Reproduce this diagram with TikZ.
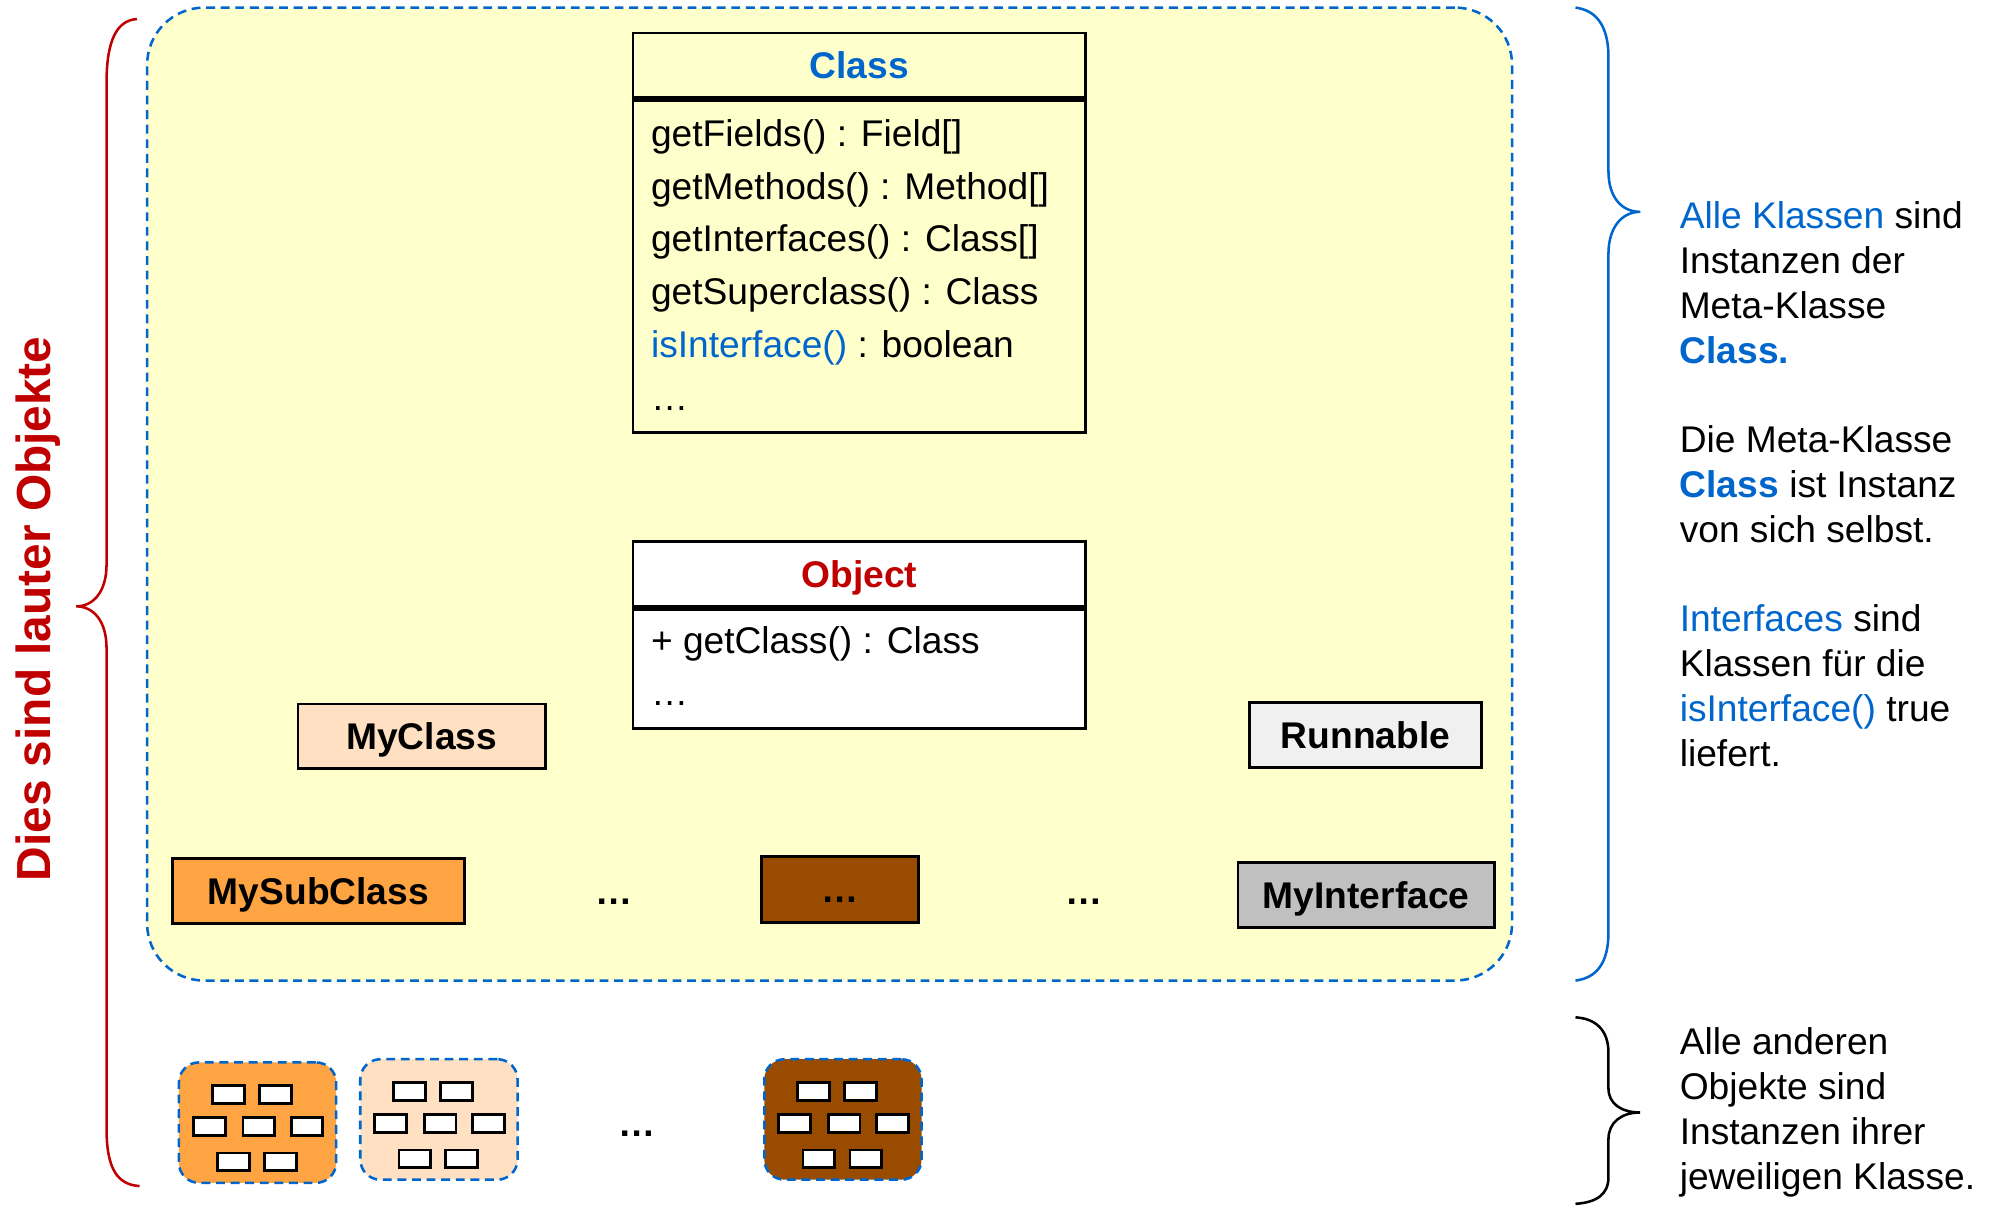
\documentclass[tikz,border=0pt]{standalone}
\usepackage{fontspec}
\setmainfont{Liberation Sans}
\usetikzlibrary{calc}
\definecolor{myblue}{HTML}{0066CC}
\definecolor{myred}{HTML}{C00000}
\definecolor{myyellow}{HTML}{FFFFCC}
\definecolor{mypeach}{HTML}{FFE0C2}
\definecolor{myorange}{HTML}{FFA443}
\definecolor{mybrown}{HTML}{994C00}
\definecolor{mylight}{HTML}{F0F0F0}
\definecolor{mygray}{HTML}{C0C0C0}
\tikzset{
  bluedash/.style={draw=myblue, line width=2pt, dash pattern=on 7pt off 4.5pt},
  region/.style={bluedash, fill=myyellow, rounded corners=45pt, minimum width=1076, minimum height=767, inner sep=0},
  umlbox/.style={draw=black, line width=2.2pt, inner sep=0},
  hdr/.style={umlbox, minimum width=357, minimum height=51, font=\bfseries\fontsize{29.3}{35}\selectfont, text height=21pt, text depth=0pt},
  mline/.style={anchor=base west, inner sep=0, font=\fontsize{29.3}{35}\selectfont},
  clsbox/.style={draw=black, line width=2.2pt, inner sep=0, minimum height=51, font=\bfseries\fontsize{29.3}{35}\selectfont, text height=21pt, text depth=0pt},
  dots/.style={anchor=base, inner sep=0, font=\bfseries\fontsize{29.3}{35}\selectfont},
  note/.style={anchor=base west, inner sep=0, font=\fontsize{29.3}{35}\selectfont},
  grp/.style={bluedash, rounded corners=16pt, minimum width=124, minimum height=95, inner sep=0},
  obj/.style={draw=black, line width=2.2pt, fill=white, minimum width=25, minimum height=14, inner sep=0},
  brace/.style={line width=2pt}
}
\begin{document}
\begin{tikzpicture}[x=1pt,y=-1pt]
\useasboundingbox (0,0) rectangle (1568,950);

% meta region
\node[region] (meta) at (654,389.5) {};

% red brace and label
\draw[brace, draw=myred] (108,15) .. controls (92,16) and (84,32) .. (84,65) -- (84,445)
  .. controls (84,466) and (74,478) .. (60,478) .. controls (74,478) and (84,490) .. (84,511)
  -- (84,890) .. controls (84,922) and (93,934) .. (110,935);
\node[rotate=90, anchor=base, inner sep=0, text=myred, font=\bfseries\fontsize{37.7}{40}\selectfont] (lbl) at (40,480) {Dies sind lauter Objekte};

% Class box
\node[hdr, text=myblue] (classhead) at (677.5,51.5) {Class};
\node[umlbox, minimum width=357, minimum height=262, anchor=north] (classbody) at (classhead.south) {};
\node[mline] (c1) at (513,115.5) {getFields() : Field[]};
\node[mline] (c2) at (513,157) {getMethods() : Method[]};
\node[mline] (c3) at (513,198.5) {getInterfaces() : Class[]};
\node[mline] (c4) at (513,240) {getSuperclass() : Class};
\node[mline] (c5) at (513,281.5) {\textcolor{myblue}{isInterface()} : boolean};
\node[mline] (c6) at (513,324) {…};

% Object box
\node[hdr, fill=white, text=myred] (objhead) at (677.5,452.5) {Object};
\node[umlbox, fill=white, minimum width=357, minimum height=94, anchor=north] (objbody) at (objhead.south) {};
\node[mline] (o1) at (513,515) {+ getClass() : Class};
\node[mline] (o2) at (513,556) {…};

% class boxes
\node[clsbox, fill=mypeach, minimum width=195] (myclass) at (332.5,580.5) {MyClass};
\node[clsbox, fill=mylight, minimum width=183] (runnable) at (1076.5,579.5) {Runnable};
\node[clsbox, fill=myorange, minimum width=230] (mysub) at (251,702.5) {MySubClass};
\node[clsbox, fill=mybrown, minimum width=124, minimum height=52] (brown) at (662,701) {…};
\node[clsbox, fill=mygray, minimum width=202] (myintf) at (1077,705.5) {MyInterface};
\node[dots] (d1) at (484,713) {…};
\node[dots] (d2) at (855,713) {…};

% object groups
\node[grp, fill=myorange] (grp1) at (203,885) {};
\node[grp, fill=mypeach] (grp2) at (346,882.5) {};
\node[grp, fill=mybrown] (grp3) at (664.5,882.5) {};
\foreach \g in {grp1,grp2,grp3}{
  \foreach \dx/\dy [count=\k] in {-23/-22, 14/-22, -38/3, 1/3, 39/3, -19/31, 18/31}{
    \node[obj] (\g-\k) at ($(\g.center)+(\dx,\dy)$) {};
  }
}
\node[dots] (d3) at (502,896) {…};

% blue brace
\draw[brace, draw=myblue] (1242,6) .. controls (1258,8) and (1268,20) .. (1268,45) -- (1268,135)
  .. controls (1268,155) and (1278,167) .. (1293,167) .. controls (1278,167) and (1268,180) .. (1268,200)
  -- (1268,735) .. controls (1268,760) and (1258,771) .. (1242,773);
% black brace
\draw[brace, draw=black] (1242,802) .. controls (1258,803) and (1268,812) .. (1268,830) -- (1268,858)
  .. controls (1268,870) and (1278,877) .. (1293,877) .. controls (1278,877) and (1268,885) .. (1268,898)
  -- (1268,928) .. controls (1268,942) and (1258,948) .. (1242,949);

% notes
\node[note] (t1) at (1324,180.5) {\textcolor{myblue}{Alle Klassen} sind};
\node[note] (t2) at (1324,215.8) {Instanzen der};
\node[note] (t3) at (1324,251.1) {Meta-Klasse};
\node[note] (t4) at (1324,286.4) {\textcolor{myblue}{\bfseries Class.}};
\node[note] (t5) at (1324,357) {Die Meta-Klasse};
\node[note] (t6) at (1324,392.3) {\textcolor{myblue}{\bfseries Class} ist Instanz};
\node[note] (t7) at (1324,427.6) {von sich selbst.};
\node[note] (t8) at (1324,498.2) {\textcolor{myblue}{Interfaces} sind};
\node[note] (t9) at (1324,533.5) {Klassen für die};
\node[note] (t10) at (1324,568.8) {\textcolor{myblue}{isInterface()} true};
\node[note] (t11) at (1324,604.1) {liefert.};
\node[note] (b1) at (1324,831.5) {Alle anderen};
\node[note] (b2) at (1324,866.8) {Objekte sind};
\node[note] (b3) at (1324,902.1) {Instanzen ihrer};
\node[note] (b4) at (1324,937.4) {jeweiligen Klasse.};
\end{tikzpicture}
\end{document}
